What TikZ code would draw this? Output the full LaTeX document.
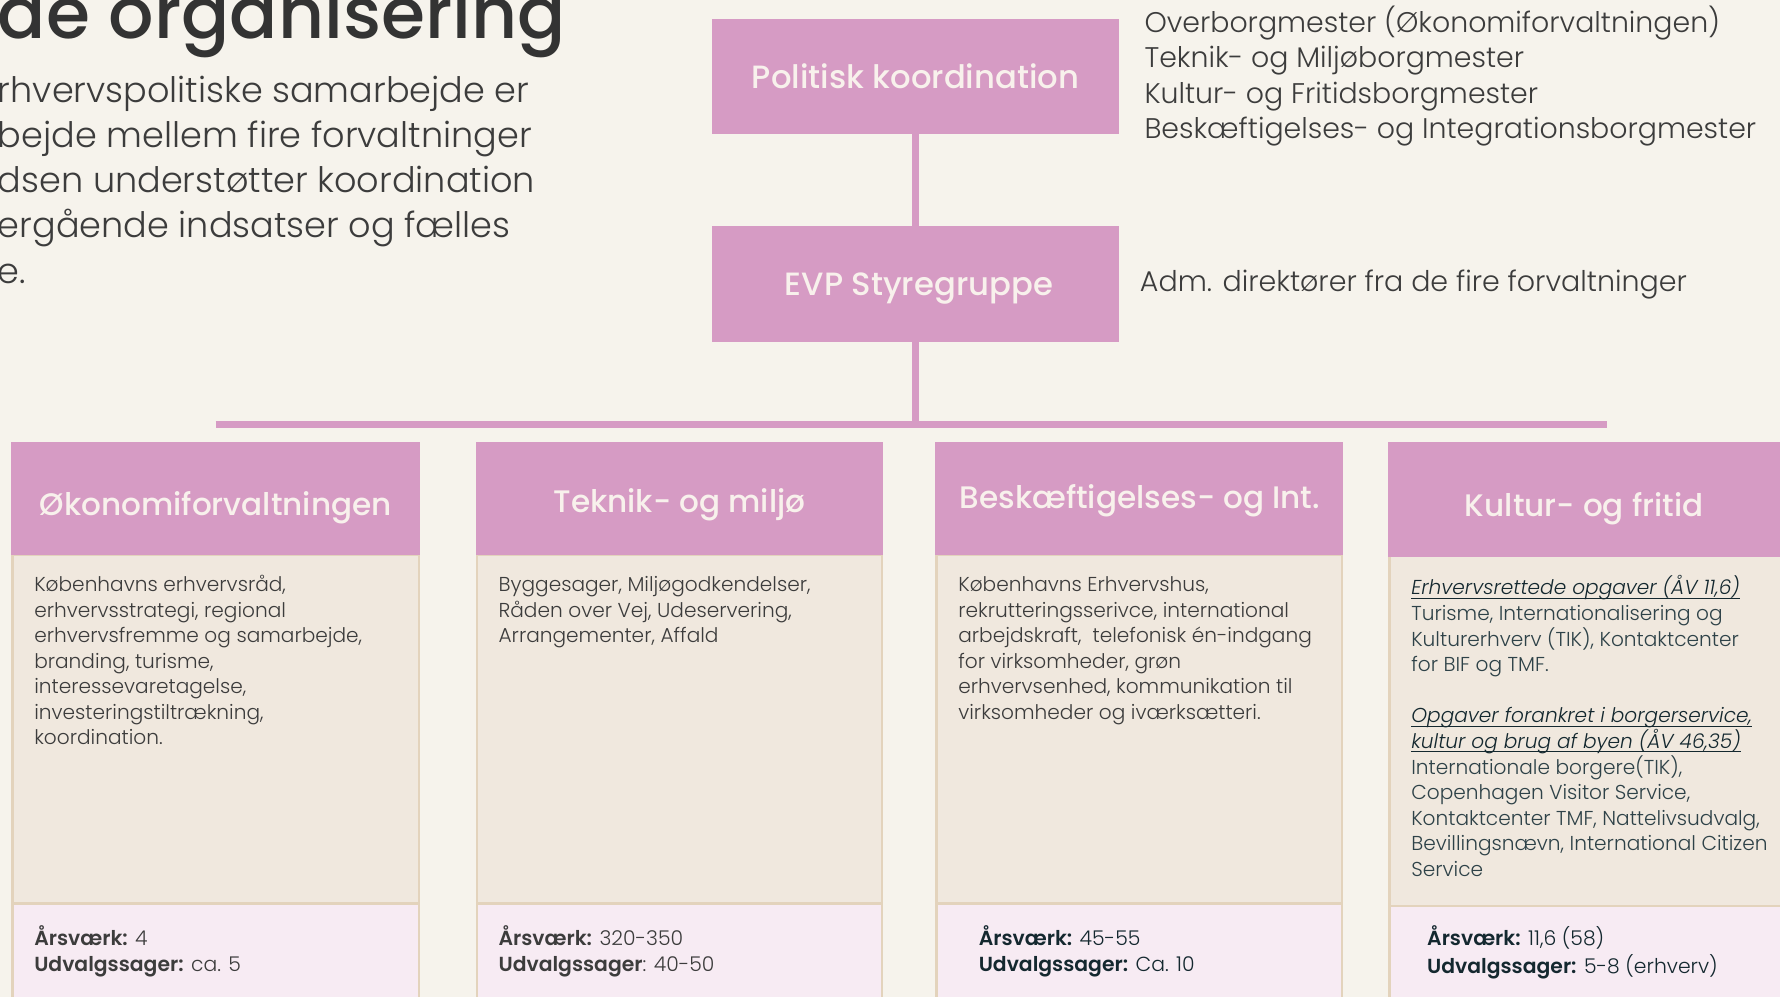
\documentclass[tikz,border=0pt]{standalone}
\usepackage{fontspec}
\setmainfont{Poppins Light}[BoldFont={Poppins SemiBold},ItalicFont={Poppins Light Italic},BoldItalicFont={Poppins SemiBold Italic}]
\newfontfamily\hdrfont{Poppins Medium}
\newcommand\ulx[1]{\setbox0\hbox{#1}\rlap{\rule[-3.5bp]{\wd0}{1.1bp}}\box0}
\definecolor{bgc}{HTML}{F6F3EC}
\definecolor{pinkc}{HTML}{D69BC4}
\definecolor{bodyc}{HTML}{F0E8DE}
\definecolor{tanc}{HTML}{E3D3BC}
\definecolor{footc}{HTML}{F7EBF3}
\definecolor{hdrtext}{HTML}{F8F1EC}
\definecolor{txtc}{HTML}{3C3C3C}
\definecolor{titlec}{HTML}{333333}
\definecolor{tealc}{HTML}{2E4248}
\definecolor{navyc}{HTML}{14282F}
\tikzset{
  pinkbox/.style={fill=pinkc,draw=none,inner sep=0},
  toplabel/.style={text=hdrtext,inner sep=0,font=\hdrfont\fontsize{28.5}{34}\selectfont},
  collabel/.style={text=hdrtext,inner sep=0,font=\hdrfont\fontsize{27.5}{34}\selectfont},
  bodybox/.style={fill=bodyc,draw=tanc,line width=2bp,inner sep=0},
  footbox/.style={fill=footc,draw=tanc,line width=2bp,inner sep=0},
  conn/.style={draw=pinkc,line width=6bp},
  blk/.style={anchor=north west,inner sep=0,align=left,text=txtc},
  coltext/.style={blk,font=\fontsize{17.8}{22.5}\selectfont},
  foottext/.style={blk,font=\fontsize{18}{23}\selectfont},
}
\begin{document}
\begin{tikzpicture}[x=1bp,y=-1bp]
\useasboundingbox (0,0) rectangle (1568,878);
\fill[bgc] (0,0) rectangle (1568,878);

% title and intro
\node[anchor=base west,inner sep=0,text=titlec,font=\hdrfont\fontsize{63}{63}\selectfont] (title) at (-2,34) {de organisering};
\node[blk,font=\fontsize{31}{40}\selectfont] (intro) at (-2,62) {\strut rhvervspolitiske samarbejde er\\
bejde mellem fire forvaltninger\\
dsen understøtter koordination\\
ergående indsatser og fælles\\
e.};

% top boxes
\node[pinkbox,minimum width=359bp,minimum height=101bp] (pol) at (806.5,67.5) {};
\node[toplabel] (polt) at (806.5,67.5) {Politisk koordination};
\node[pinkbox,minimum width=359bp,minimum height=102bp] (evp) at (806.5,250) {};
\node[toplabel] (evpt) at (809.5,254) {EVP Styregruppe};
\node[blk,font=\fontsize{25.1}{31.3}\selectfont] (poltxt) at (1008,5) {\strut Overborgmester (Økonomiforvaltningen)\\
Teknik- og Miljøborgmester\\
Kultur- og Fritidsborgmester\\
Beskæftigelses- og Integrationsborgmester};
\node[anchor=base west,inner sep=0,text=txtc,font=\fontsize{25.2}{31.3}\selectfont] (evptxt) at (1004,257) {Adm. direktører fra de fire forvaltninger};

% connectors
\coordinate (barL) at (190,374);
\coordinate (barR) at (1416,374);
\draw[conn] (pol.south) -- (evp.north);
\draw[conn] (evp.south) -- (evp.south |- barL);
\draw[conn] (barL) -- (barR);

% columns: bodies and footers
\node[bodybox,minimum width=358bp,minimum height=307bp] (b1) at (190,642.5) {};
\node[bodybox,minimum width=357bp,minimum height=307bp] (b2) at (598.5,642.5) {};
\node[bodybox,minimum width=357bp,minimum height=307bp] (b3) at (1003.5,642.5) {};
\node[bodybox,minimum width=360bp,minimum height=309bp] (b4) at (1404,643.5) {};
\node[footbox,minimum width=358bp,minimum height=110bp] (f1) at (190,851) {};
\node[footbox,minimum width=357bp,minimum height=110bp] (f2) at (598.5,851) {};
\node[footbox,minimum width=357bp,minimum height=110bp] (f3) at (1003.5,851) {};
\node[footbox,minimum width=360bp,minimum height=108bp] (f4) at (1404,852) {};

% headers
\node[pinkbox,minimum width=360bp,minimum height=100bp] (h1) at (190,439) {};
\node[pinkbox,minimum width=359bp,minimum height=100bp] (h2) at (598.5,439) {};
\node[pinkbox,minimum width=359bp,minimum height=100bp] (h3) at (1003.5,439) {};
\node[pinkbox,minimum width=362bp,minimum height=102bp] (h4) at (1404,440) {};
\node[collabel] (h1t) at (190,447) {Økonomiforvaltningen};
\node[collabel] (h2t) at (598.5,445) {Teknik- og miljø};
\node[collabel] (h3t) at (1004,441) {Beskæftigelses- og Int.};
\node[collabel] (h4t) at (1395.5,448) {Kultur- og fritid};

% body texts
\node[coltext] (t1) at (30,505.5) {\strut Københavns erhvervsråd,\\
erhvervsstrategi, regional\\
erhvervsfremme og samarbejde,\\
branding, turisme,\\
interessevaretagelse,\\
investeringstiltrækning,\\
koordination.};
\node[coltext] (t2) at (439,505.5) {\strut Byggesager, Miljøgodkendelser,\\
Råden over Vej, Udeservering,\\
Arrangementer, Affald};
\node[coltext] (t3) at (844,505.5) {\strut Københavns Erhvervshus,\\
rekrutteringsserivce, international\\
arbejdskraft,\ \ telefonisk én-indgang\\
for virksomheder, grøn\\
erhvervsenhed, kommunikation til\\
virksomheder og iværksætteri.};
\node[coltext,font=\fontsize{17.8}{22.6}\selectfont,text=tealc] (t4) at (1243,507) {\strut {\color{navyc}\ulx{\textit{Erhvervsrettede opgaver (ÅV 11,6)}}}\\
Turisme, Internationalisering og\\
Kulturerhverv (TIK), Kontaktcenter\\
for BIF og TMF.\\[22.6bp]
{\color{navyc}\ulx{\textit{Opgaver forankret i borgerservice,}}}\\
{\color{navyc}\ulx{\textit{kultur og brug af byen (ÅV 46,35)}}}\\
Internationale borgere(TIK),\\
Copenhagen Visitor Service,\\
Kontaktcenter TMF, Nattelivsudvalg,\\
Bevillingsnævn, International Citizen\\
Service};

% footer texts
\node[foottext] (s1) at (30,815.5) {\strut\textbf{Årsværk:} 4\\
\textbf{Udvalgssager:} ca. 5};
\node[foottext] (s2) at (439,815.5) {\strut\textbf{Årsværk:} 320-350\\
\textbf{Udvalgssager}: 40-50};
\node[foottext,text=navyc] (s3) at (862,815.5) {\strut\textbf{Årsværk:} 45-55\\
\textbf{Udvalgssager:} Ca. 10};
\node[foottext,text=navyc] (s4) at (1257,815.5) {\strut\textbf{Årsværk:} 11,6 (58)\\
\textbf{Udvalgssager:} 5-8 (erhverv)};
\end{tikzpicture}
\end{document}
